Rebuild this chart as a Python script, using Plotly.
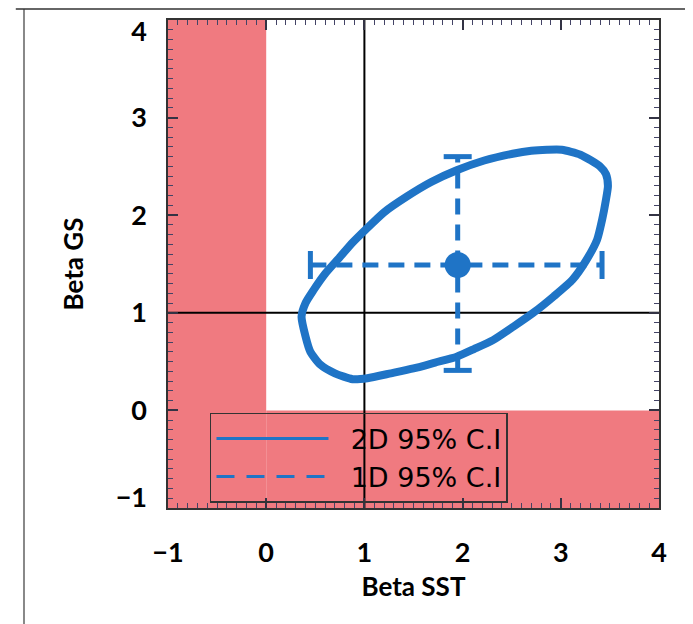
import plotly.graph_objects as go

# Ellipse contour (2D 95% C.I.)
ell_x = [0.36, 0.40, 0.48, 0.60, 0.75, 0.88, 1.01, 1.20, 1.43, 1.68, 1.94, 2.22, 2.51, 2.70, 2.86,
         3.01, 3.20, 3.40, 3.46, 3.48, 3.46, 3.42, 3.37, 3.26, 3.12, 2.93, 2.72, 2.52, 2.31, 2.12,
         1.94, 1.72, 1.50, 1.27, 1.03, 0.88, 0.70, 0.55, 0.45, 0.40, 0.36]
ell_y = [0.96, 1.10, 1.23, 1.40, 1.57, 1.72, 1.85, 2.03, 2.19, 2.34, 2.46, 2.56, 2.63, 2.66, 2.67,
         2.67, 2.62, 2.50, 2.42, 2.30, 2.16, 1.95, 1.75, 1.54, 1.34, 1.17, 1.00, 0.86, 0.72, 0.63,
         0.55, 0.49, 0.43, 0.38, 0.33, 0.32, 0.38, 0.47, 0.60, 0.76, 0.96]

# Best estimate and 1D 95% C.I.
center_x = [1.95]
center_y = [1.49]
x_lo, x_hi = 0.45, 3.42
y_lo, y_hi = 0.41, 2.60

tick_vals = [-1, 0, 1, 2, 3, 4]
tick_text = ["\u22121", "0", "1", "2", "3", "4"]
legend_names = ["2D 95% C.I", "1D 95% C.I"]

# style: end labels of the y axis are tucked inside the range, as in the original
y_label_nudge = [0.11, 0, 0, 0, 0, -0.12]
y_label_pos = [v + d for v, d in zip(tick_vals, y_label_nudge)]
legend_gap = "\u00a0\u00a0"

blue = "#1f74c6"
pink = "rgb(240,122,128)"
font_fam = "Lato, Open Sans, sans-serif"
legend_fam = "DejaVu Sans, sans-serif"

fig = go.Figure()

# 2D ellipse
fig.add_trace(go.Scatter(x=ell_x, y=ell_y, mode="lines", name=legend_names[0], legendgroup="2d",
                         line=dict(color=blue, width=8, shape="spline", smoothing=0.6),
                         showlegend=False))
# 1D horizontal dashed bar
fig.add_trace(go.Scatter(x=[x_lo, x_hi], y=[center_y[0], center_y[0]], mode="lines",
                         name=legend_names[1], legendgroup="1d",
                         line=dict(color=blue, width=5, dash="16px,10px"), showlegend=False))
# 1D vertical dashed bar
fig.add_trace(go.Scatter(x=[center_x[0], center_x[0]], y=[y_lo, y_hi], mode="lines",
                         legendgroup="1d",
                         line=dict(color=blue, width=5, dash="16px,10px"), showlegend=False))
# caps
fig.add_trace(go.Scatter(x=[x_lo, x_hi], y=[center_y[0], center_y[0]], mode="markers",
                         legendgroup="1d",
                         marker=dict(symbol="line-ns-open", size=20, color=blue,
                                     line=dict(color=blue, width=5)),
                         showlegend=False))
fig.add_trace(go.Scatter(x=[center_x[0], center_x[0]], y=[y_lo, y_hi], mode="markers",
                         legendgroup="1d",
                         marker=dict(symbol="line-ew-open", size=20, color=blue,
                                     line=dict(color=blue, width=5)),
                         showlegend=False))
# center point
fig.add_trace(go.Scatter(x=center_x, y=center_y, mode="markers",
                         marker=dict(color=blue, size=26), showlegend=False))

# legend entries (thin lines as in the original key)
fig.add_trace(go.Scatter(x=[None], y=[None], mode="lines", name=legend_gap + legend_names[0],
                         legendgroup="2d", line=dict(color=blue, width=3)))
fig.add_trace(go.Scatter(x=[None], y=[None], mode="lines", name=legend_gap + legend_names[1],
                         legendgroup="1d", line=dict(color=blue, width=3, dash="18px,12px")))
# anchor trace for the label axis
fig.add_trace(go.Scatter(x=[None], y=[None], yaxis="y2", showlegend=False, hoverinfo="skip"))

# shaded exclusion regions
fig.add_shape(type="rect", xref="x", yref="y", x0=-1, x1=0, y0=-1, y1=4,
              fillcolor=pink, line=dict(width=0), layer="below")
fig.add_shape(type="rect", xref="x", yref="y", x0=0, x1=4, y0=-1, y1=0,
              fillcolor=pink, line=dict(width=0), layer="below")
# reference lines at 1
fig.add_shape(type="line", xref="x", yref="y", x0=1, x1=1, y0=-1, y1=4,
              line=dict(color="black", width=2), layer="below")
fig.add_shape(type="line", xref="x", yref="y", x0=-1, x1=4, y0=1, y1=1,
              line=dict(color="black", width=2), layer="below")

# page frame
fig.add_shape(type="line", xref="paper", yref="paper", x0=-0.2933, x1=-0.2933, y0=-0.26, y1=1.0225,
              line=dict(color="#888888", width=2))
fig.add_shape(type="line", xref="paper", yref="paper", x0=-0.31, x1=1.1, y0=1.0225, y1=1.0225,
              line=dict(color="#333333", width=1.5))

tickfont = dict(family=font_fam, size=27, color="black", weight="bold")
axis_common = dict(
    range=[-1, 4], tickmode="array", tickvals=tick_vals, ticktext=tick_text,
    showgrid=False, zeroline=False, showline=True, linecolor="#333", linewidth=1.5,
    mirror="ticks", ticks="inside", ticklen=10, tickwidth=1.5, tickcolor="#334",
    minor=dict(dtick=0.1, ticks="inside", ticklen=5, tickwidth=1, tickcolor="#446"),
    tickfont=tickfont, automargin=False, ticklabeloverflow="allow",
)

fig.update_xaxes(**axis_common, ticklabelstandoff=20,
                 title=dict(text="Beta SST", standoff=11,
                            font=dict(family=font_fam, size=26, color="black", weight="bold")))
fig.update_yaxes(**axis_common, showticklabels=False)

fig.update_layout(
    width=693, height=624,
    margin=dict(l=160, r=42, t=12, b=124),
    paper_bgcolor="white", plot_bgcolor="white",
    yaxis2=dict(overlaying="y", side="left", range=[-1, 4], tickmode="array",
                tickvals=y_label_pos, ticktext=tick_text, ticks="", showline=False,
                showgrid=False, zeroline=False, tickfont=tickfont, automargin=False,
                ticklabeloverflow="allow", ticklabelstandoff=20,
                title=dict(text="Beta GS", standoff=24,
                           font=dict(family=font_fam, size=26, color="black", weight="bold"))),
    legend=dict(x=0.0855, y=0.195, xanchor="left", yanchor="top",
                bgcolor="rgba(0,0,0,0)", bordercolor="#333", borderwidth=1.5,
                font=dict(family=legend_fam, size=27, color="black"),
                itemwidth=112, tracegroupgap=0),
)

fig.write_html("out.html")
